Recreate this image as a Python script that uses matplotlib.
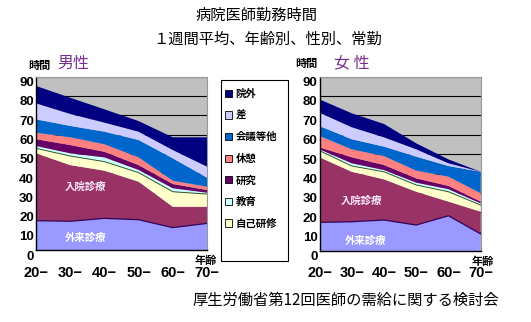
import matplotlib
matplotlib.use('Agg')
import numpy as np
import matplotlib.pyplot as plt
import matplotlib.transforms as mtransforms
from matplotlib.patches import Rectangle

plt.rcParams['font.family'] = ['Noto Sans CJK JP', 'DejaVu Sans']

ages = ['20−', '30−', '40−', '50−', '60−', '70−']
layer_names = ['外来診療', '入院診療', '自己研修', '教育', '研究', '休憩', '会議等他', '差', '院外']
colors = ['#9999ff', '#993366', '#ffffcc', '#ccffff', '#660066', '#ff8080', '#0066cc', '#ccccff', '#000080']

# hours per week, male doctors
m_outpatient = [15.4, 15.1, 16.6, 15.9, 11.8, 14.0]
m_inpatient = [34.9, 29.1, 24.7, 19.7, 10.8, 8.6]
m_selfstudy = [2.6, 4.7, 4.7, 4.7, 7.8, 6.6]
m_teaching = [1.2, 1.4, 2.2, 1.4, 1.8, 0.7]
m_research = [3.5, 4.3, 2.9, 2.5, 2.2, 1.4]
m_rest = [3.4, 4.0, 3.9, 4.0, 1.7, 1.7]
m_meeting = [6.9, 5.9, 6.5, 9.0, 11.6, 4.7]
m_diff = [8.3, 6.2, 4.7, 4.3, 4.3, 5.7]
m_outside = [9.0, 8.4, 6.9, 5.5, 6.6, 15.2]

# hours per week, female doctors
f_outpatient = [14.8, 15.1, 16.0, 13.4, 18.2, 8.8]
f_inpatient = [33.6, 25.8, 21.0, 17.2, 7.3, 11.5]
f_selfstudy = [3.4, 3.0, 3.9, 3.5, 5.1, 3.4]
f_teaching = [0.7, 1.4, 0.9, 1.2, 1.3, 0.9]
f_research = [1.0, 3.1, 2.6, 2.2, 1.7, 0.9]
f_rest = [5.9, 4.1, 4.6, 4.0, 4.8, 4.3]
f_meeting = [5.1, 5.2, 4.9, 7.2, 5.5, 11.1]
f_diff = [6.9, 6.2, 4.8, 3.8, 1.4, 0.0]
f_outside = [6.9, 7.2, 6.9, 3.1, 2.0, 0.0]

male = [m_outpatient, m_inpatient, m_selfstudy, m_teaching, m_research,
        m_rest, m_meeting, m_diff, m_outside]
female = [f_outpatient, f_inpatient, f_selfstudy, f_teaching, f_research,
          f_rest, f_meeting, f_diff, f_outside]

W, H = 531, 322
fig = plt.figure(figsize=(W / 100, H / 100), dpi=100)


def draw(ax, data, lab_in, lab_out):
    x = np.arange(len(ages))
    ax.stackplot(x, *data, colors=colors, linewidth=0)
    cum = np.cumsum(np.array(data), axis=0)
    ax.plot(x, cum[0], color='#330055', lw=0.9)
    ax.plot(x, cum[2], color='#335533', lw=0.7)
    ax.set_facecolor('#c0c0c0')
    ax.set_xlim(0, 5)
    ax.set_ylim(0, 90)
    ax.set_yticks(range(0, 91, 10))
    ax.set_xticks(x)
    ax.set_xticklabels(ages)
    ax.yaxis.grid(True, color='black', lw=0.8)
    ax.set_axisbelow(True)
    ax.tick_params(axis='y', length=0, pad=1.5)
    ax.tick_params(axis='x', direction='in', length=3, pad=11)
    for lbl in ax.get_yticklabels() + ax.get_xticklabels():
        lbl.set_family(['Liberation Sans', 'DejaVu Sans'])
        lbl.set_fontweight('bold')
    for lbl in ax.get_yticklabels():
        lbl.set_fontsize(9.5)
        lbl.set_transform(lbl.get_transform() +
                          mtransforms.ScaledTranslation(0, -3.5 / 72, fig.dpi_scale_trans))
    for lbl in ax.get_xticklabels():
        lbl.set_fontsize(10.5)
    for s in ['left', 'bottom']:
        ax.spines[s].set_color('black')
        ax.spines[s].set_linewidth(1.0)
    for s in ['top', 'right']:
        ax.spines[s].set_color('#999999')
        ax.spines[s].set_linewidth(0.8)
    ax.text(lab_in[0], lab_in[1], '入院診療', color='#fbe8fb', fontsize=7.5,
            fontweight='bold', ha='center', va='center')
    ax.text(lab_out[0], lab_out[1], '外来診療', color='white', fontsize=7.5,
            fontweight='bold', ha='center', va='center')


ax1 = fig.add_axes([36 / W, 1 - 250.4 / H, 171 / W, 173.7 / H])
draw(ax1, male, (1.46, 32.8), (1.46, 6.8))
ax2 = fig.add_axes([319.5 / W, 1 - 251 / H, 161.2 / W, 174.3 / H])
draw(ax2, female, (1.30, 26.0), (1.42, 5.3))

# titles and labels
fig.text(257 / W, 1 - 15 / H, '病院医師勤務時間', ha='center', va='center', fontsize=11)
fig.text(268 / W, 1 - 39 / H, '１週間平均、年齢別、性別、常勤', ha='center', va='center', fontsize=11)
fig.text(39 / W, 1 - 65 / H, '時間', ha='center', va='center', fontsize=8, fontweight='bold')
fig.text(73 / W, 1 - 63 / H, '男性', ha='center', va='center', fontsize=11.5, color='#7a2e8e')
fig.text(306 / W, 1 - 63 / H, '時間', ha='center', va='center', fontsize=8, fontweight='bold')
fig.text(352 / W, 1 - 63 / H, '女 性', ha='center', va='center', fontsize=11.5, color='#7a2e8e')
fig.text(206 / W, 1 - 260 / H, '年齢', ha='center', va='center', fontsize=8, fontweight='bold')
fig.text(483 / W, 1 - 261 / H, '年齢', ha='center', va='center', fontsize=8, fontweight='bold')
fig.text(346 / W, 1 - 300 / H, '厚生労働省第12回医師の需給に関する検討会',
         ha='center', va='center', fontsize=11)

# legend box
fig.patches.append(Rectangle((221 / W, 1 - 261 / H), 67 / W, 181 / H,
                             transform=fig.transFigure, facecolor='white',
                             edgecolor='black', lw=0.8))
leg_idx = [8, 7, 6, 5, 4, 3, 2]
handles = [Rectangle((0, 0), 1, 1, facecolor=colors[i], edgecolor='black', lw=0.6)
           for i in leg_idx]
labels = [layer_names[i] for i in leg_idx]
fig.legend(handles, labels, loc='upper left', bbox_to_anchor=(223 / W, 1 - 87 / H),
           frameon=False, handlelength=0.7, handleheight=0.7,
           handletextpad=0.3, labelspacing=1.1, borderpad=0.2, borderaxespad=0,
           prop={'weight': 'bold', 'size': 7.5})

fig.savefig('out.png', dpi=100)
